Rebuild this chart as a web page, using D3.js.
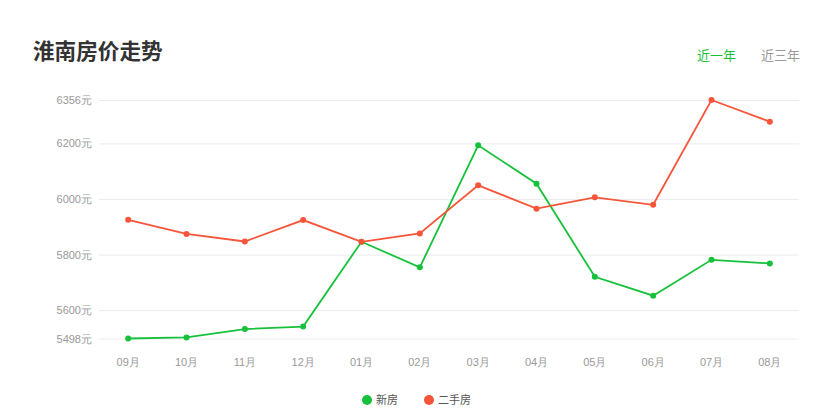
<!DOCTYPE html>
<html><head><meta charset="utf-8">
<script src="https://cdn.jsdelivr.net/npm/d3@7"></script>
<style>
html,body{margin:0;padding:0;background:#fff;}
svg{display:block;font-family:"Noto Sans CJK SC","Microsoft YaHei",sans-serif;}
</style></head>
<body><svg id="c" width="827" height="420"></svg>
<script>
const months = ["09月","10月","11月","12月","01月","02月","03月","04月","05月","06月","07月","08月"];
const newHouse = [5498,5502,5532,5541,5846,5754,6193,6055,5720,5652,5781,5768];
const secondHand = [5925,5874,5847,5924,5846,5876,6049,5965,6006,5979,6356,6278];
const yTicks = [5498,5600,5800,6000,6200,6356];
const seriesNames = ["新房","二手房"];
const colors = ["#17c13b","#f6553a"];

const svg = d3.select("#c");
const x = d3.scaleBand().domain(months).range([99,799]);
const y = d3.scaleLinear().domain([5498,6356]).range([338.5,100]);

svg.append("text").attr("x",33).attr("y",59).attr("font-size",21.6).attr("font-weight","bold")
  .attr("fill","#333").text("淮南房价走势");
svg.append("text").attr("x",697).attr("y",60).attr("font-size",13).attr("fill","#17c13b").text("近一年");
svg.append("text").attr("x",761).attr("y",60).attr("font-size",13).attr("fill","#999").text("近三年");

// grid & y axis
const ya = svg.append("g").attr("transform","translate(99,0)")
  .call(d3.axisLeft(y).tickValues(yTicks).tickSize(-700).tickFormat(d=>d+"元").tickPadding(7));
ya.select(".domain").remove();
ya.selectAll(".tick line").attr("stroke","#ececec").attr("stroke-width",1);
ya.selectAll(".tick text").attr("fill","#999").attr("font-size",11);

// x axis
const xa = svg.append("g").attr("transform","translate(0,339)")
  .call(d3.axisBottom(x).tickSize(0).tickPadding(19));
xa.select(".domain").remove();
xa.selectAll(".tick text").attr("fill","#999").attr("font-size",11);

const cx = m => x(m)+x.bandwidth()/2;
[newHouse, secondHand].forEach((vals,i)=>{
  const data = months.map((m,j)=>({m, v:vals[j]}));
  svg.append("path").datum(data)
    .attr("fill","none").attr("stroke",colors[i]).attr("stroke-width",1.8)
    .attr("d", d3.line().x(d=>cx(d.m)).y(d=>y(d.v)));
  svg.append("g").selectAll("circle").data(data).join("circle")
    .attr("cx",d=>cx(d.m)).attr("cy",d=>y(d.v)).attr("r",3).attr("fill",colors[i]);
});

// legend
const lg = svg.append("g");
const lx = [367, 429];
seriesNames.forEach((n,i)=>{
  lg.append("circle").attr("cx",lx[i]).attr("cy",400).attr("r",5).attr("fill",colors[i]);
  lg.append("text").attr("x",lx[i]+9).attr("y",404).attr("font-size",11).attr("fill","#555").text(n);
});
</script></body></html>
